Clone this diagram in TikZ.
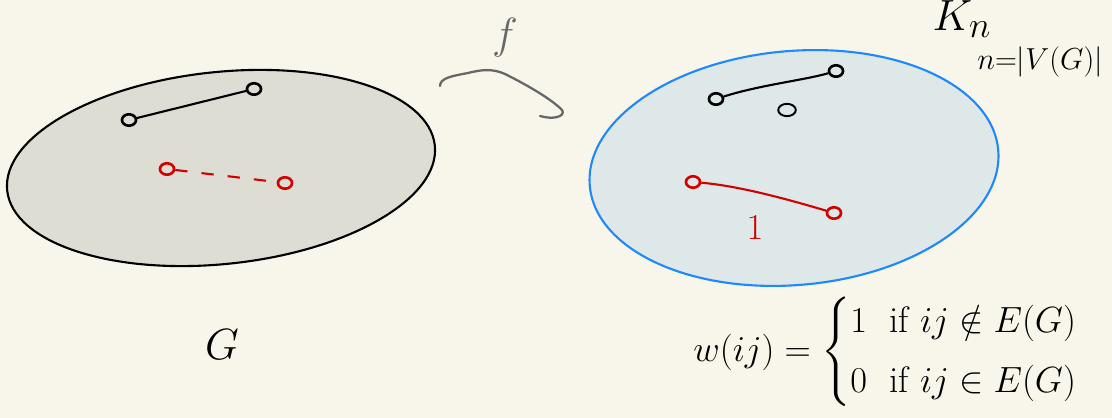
\documentclass[tikz,border=0pt]{standalone}
\usepackage{amsmath}
\usetikzlibrary{arrows.meta,positioning}
\definecolor{paper}{HTML}{F8F6EA}
\definecolor{graphfill}{HTML}{DDDDD3}
\definecolor{knfill}{HTML}{DEE8E8}
\definecolor{knline}{HTML}{1E88FF}
\definecolor{inkred}{HTML}{D40000}
\definecolor{inkgray}{HTML}{676767}
\tikzset{
  vtx/.style={draw=black, line width=1.5pt, ellipse, inner sep=0pt, minimum width=8pt, minimum height=6.5pt},
  rvtx/.style={vtx, draw=inkred},
  edge/.style={line width=1.2pt},
  redge/.style={edge, draw=inkred},
  hand/.style={inner sep=0pt, font=\fontsize{28}{30}\selectfont},
  farrow/.style={draw=inkgray, line width=1.3pt, line cap=round}
}
\usetikzlibrary{shapes.geometric}

\begin{document}
\begin{tikzpicture}[x=0.02cm, y=-0.02cm]
  \fill[paper] (0,0) rectangle (1112,418);
  \useasboundingbox (0,0) rectangle (1112,418);

  % the graph G
  \filldraw[fill=graphfill, draw=black, line width=1.2pt, rotate around={6:(221,168)}]
    (221,168) ellipse [x radius=215, y radius=96];
  \node[vtx] (g1) at (129,120) {};
  \node[vtx] (g2) at (254,89) {};
  \node[rvtx] (g3) at (167,169) {};
  \node[rvtx] (g4) at (285,183) {};
  \draw[edge] (g1) -- (g2);
  \draw[redge, dash pattern=on 7pt off 8pt] (g3) -- (g4);
  \node[hand] (glabel) at (222,345) {$G$};

  % the map f
  \coordinate (fs) at (440,86);
  \coordinate (fe) at (560,108);
  \draw[farrow] (fs) .. controls (440,78) and (452,76) .. (468,73)
    .. controls (480,70) and (492,68) .. (505,74)
    .. controls (525,84) and (548,97) .. (fe)
    .. controls (568,114) and (558,121) .. (540,116);
  \node[hand, text=inkgray] (flabel) at (505,38) {$f$};

  % the complete graph K_n
  \filldraw[fill=knfill, draw=knline, line width=1.2pt, rotate around={5:(794,168)}]
    (794,168) ellipse [x radius=205, y radius=117];
  \node[vtx] (k1) at (716,99) {};
  \node[vtx] (k2) at (836,71) {};
  \node[vtx, line width=1.1pt, minimum width=10pt, minimum height=7pt] (k3) at (787,110) {};
  \node[rvtx] (k4) at (693,182) {};
  \node[rvtx] (k5) at (834,213) {};
  \draw[edge] (k1) .. controls (760,85) and (805,80) .. (k2);
  \draw[redge] (k4) .. controls (740,186) and (790,200) .. (k5);
  \node[hand, text=inkred, font=\fontsize{20}{22}\selectfont] (wone) at (755,228) {$1$};
  \node[hand] (knlabel) at (962,19) {$K_n$};
  \node[hand, font=\fontsize{18}{20}\selectfont] (nsize) at (1040,62) {$n{=}|V(G)|$};

  % the weights
  \node[hand, font=\fontsize{21}{25}\selectfont, anchor=west] (weight) at (693,352)
    {$w(ij) = \begin{cases} 1 \ \text{ if } ij\notin E(G)\\[4pt] 0 \ \text{ if } ij\in E(G)\end{cases}$};
\end{tikzpicture}
\end{document}
